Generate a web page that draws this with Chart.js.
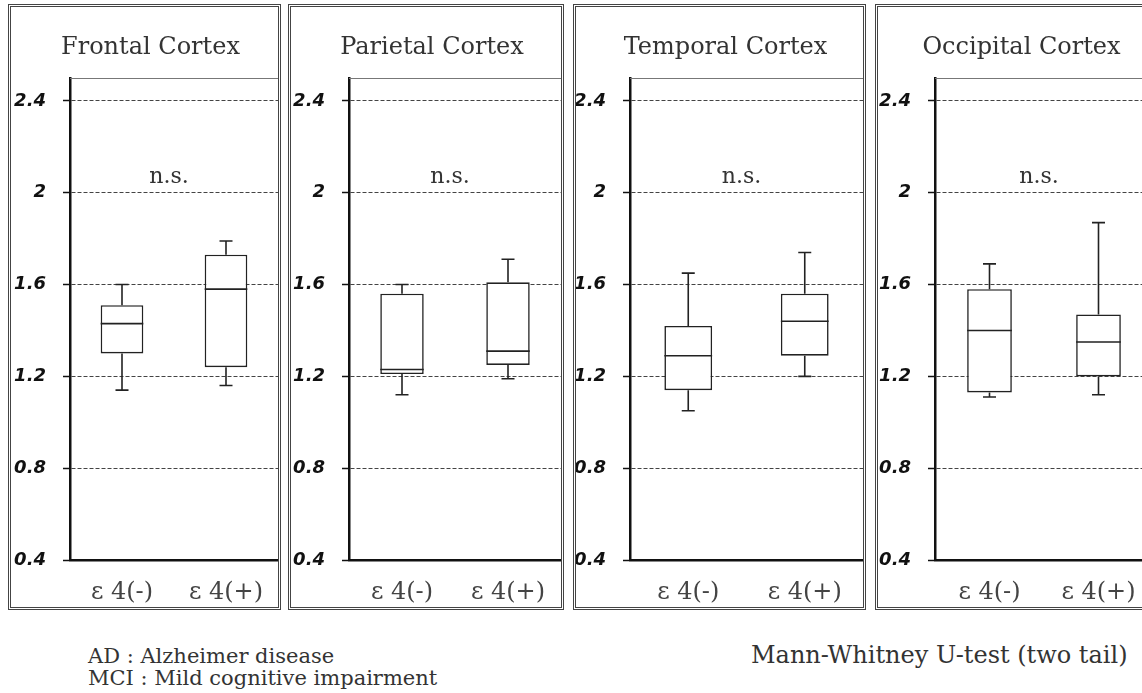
<!DOCTYPE html>
<html>
<head>
<meta charset="utf-8">
<script src="https://cdn.jsdelivr.net/npm/chart.js@4.4.1/dist/chart.umd.min.js"></script>
<style>
  html, body { margin: 0; padding: 0; background: #fff; overflow: hidden; }
  body { width: 1142px; height: 693px; position: relative; }
  .panel { position: absolute; top: 4px; height: 606px; box-sizing: border-box; border: 3px double #444; }
  .panel .inner { position: relative; width: 100%; height: 100%; }
  .note { position: absolute; font-family: "DejaVu Serif", serif; color: #333; white-space: nowrap; }
</style>
</head>
<body>
<div class="note" style="left:88px; top:645px; font-size:21px; line-height:22px;">AD : Alzheimer disease<br>MCI : Mild cognitive impairment</div>
<div class="note" style="left:751px; top:643px; font-size:24px; line-height:24px;">Mann-Whitney U-test (two tail)</div>
<script>
// data (SUV ratio per region, APOE e4 carriers vs non-carriers)
const regions = ['Frontal Cortex', 'Parietal Cortex', 'Temporal Cortex', 'Occipital Cortex'];
const categories = ['ε 4(-)', 'ε 4(+)'];
const yTicks = [0.4, 0.8, 1.2, 1.6, 2.0, 2.4];
const whiskerLow = [[1.14, 1.16], [1.12, 1.19], [1.05, 1.20], [1.11, 1.12]];
const q1 = [[1.30, 1.24], [1.21, 1.25], [1.14, 1.29], [1.13, 1.20]];
const median = [[1.43, 1.58], [1.23, 1.31], [1.29, 1.44], [1.40, 1.35]];
const q3 = [[1.51, 1.73], [1.56, 1.61], [1.42, 1.56], [1.58, 1.47]];
const whiskerHigh = [[1.60, 1.79], [1.60, 1.71], [1.65, 1.74], [1.69, 1.87]];
const significance = ['n.s.', 'n.s.', 'n.s.', 'n.s.'];

// panel frames on the page
const panels = [
    { left: 8, width: 273, axis: 59 },
    { left: 288, width: 276, axis: 58 },
    { left: 573, width: 293, axis: 54 },
    { left: 875, width: 281, axis: 57 }
];

const boxPlugin = {
    id: 'boxParts',
    afterDatasetsDraw(chart) {
        const p = chart.options.panelIndex;
        const y = chart.scales.y;
        const area = chart.chartArea;
        const ctx = chart.ctx;
        const meta = chart.getDatasetMeta(0);
        ctx.save();
        ctx.strokeStyle = '#222';
        ctx.lineWidth = 1.6;
        meta.data.forEach((bar, i) => {
            const half = bar.width / 2;
            const cap = 6.5;
            const yMed = y.getPixelForValue(median[p][i]);
            const yQ1 = y.getPixelForValue(q1[p][i]);
            const yQ3 = y.getPixelForValue(q3[p][i]);
            const yLo = y.getPixelForValue(whiskerLow[p][i]);
            const yHi = y.getPixelForValue(whiskerHigh[p][i]);
            ctx.beginPath();
            ctx.moveTo(bar.x - half, yMed); ctx.lineTo(bar.x + half, yMed);
            ctx.moveTo(bar.x, yQ3); ctx.lineTo(bar.x, yHi);
            ctx.moveTo(bar.x - cap, yHi); ctx.lineTo(bar.x + cap, yHi);
            ctx.moveTo(bar.x, yQ1); ctx.lineTo(bar.x, yLo);
            ctx.moveTo(bar.x - cap, yLo); ctx.lineTo(bar.x + cap, yLo);
            ctx.stroke();
        });
        // thin frame along the top of the plot
        ctx.strokeStyle = '#777';
        ctx.lineWidth = 1;
        ctx.beginPath();
        ctx.moveTo(area.left, area.top + 0.5);
        ctx.lineTo(area.right, area.top + 0.5);
        ctx.stroke();
        // significance mark
        ctx.fillStyle = '#333';
        ctx.font = '22px "DejaVu Serif"';
        ctx.textAlign = 'center';
        ctx.textBaseline = 'alphabetic';
        ctx.fillText(significance[p], (area.left + area.right) / 2 - 5, y.getPixelForValue(2.0) - 10);
        // panel title
        ctx.font = '24px "DejaVu Serif"';
        ctx.fillText(regions[p], chart.width / 2 + 6, 47);
        ctx.restore();
    }
};

function makePanel(p) {
    const frame = panels[p];
    const div = document.createElement('div');
    div.className = 'panel';
    div.style.left = frame.left + 'px';
    div.style.width = frame.width + 'px';
    const inner = document.createElement('div');
    inner.className = 'inner';
    const canvas = document.createElement('canvas');
    inner.appendChild(canvas);
    div.appendChild(inner);
    document.body.appendChild(div);

    new Chart(canvas, {
        type: 'bar',
        data: {
            labels: categories,
            datasets: [{
                data: categories.map((c, i) => [q1[p][i], q3[p][i]]),
                backgroundColor: '#fff',
                borderColor: '#222',
                borderWidth: 1.6,
                borderSkipped: false,
                barPercentage: 0.41,
                categoryPercentage: 1
            }]
        },
        options: {
            panelIndex: p,
            animation: false,
            responsive: true,
            maintainAspectRatio: false,
            layout: { padding: { top: 71, left: 0, right: 0, bottom: 0 } },
            plugins: { legend: { display: false }, tooltip: { enabled: false }, title: { display: false } },
            scales: {
                x: {
                    grid: { display: false, drawTicks: false },
                    border: { display: true, color: '#111', width: 2.5 },
                    ticks: { color: '#444', padding: 18, font: { family: 'DejaVu Serif', size: 24 } },
                    afterFit(scale) {
                        scale.height = 47;
                        scale.paddingLeft = 0;
                        scale.paddingRight = 0;
                    }
                },
                y: {
                    min: 0.4,
                    max: 2.5,
                    afterBuildTicks(scale) { scale.ticks = yTicks.map(v => ({ value: v })); },
                    afterFit(scale) { scale.width = frame.axis; },
                    grid: { color: '#444', lineWidth: 1, tickLength: 7, tickColor: '#111', tickWidth: 1.5 },
                    border: { display: true, color: '#111', width: 2.5, dash: [4, 2] },
                    ticks: {
                        color: '#111',
                        padding: 17,
                        font: { family: 'DejaVu Sans', size: 18, style: 'italic', weight: 'bold' },
                        callback: v => (v === 2 ? '2' : v.toFixed(1))
                    }
                }
            }
        },
        plugins: [boxPlugin]
    });
}

regions.forEach((r, p) => makePanel(p));
</script>
</body>
</html>
